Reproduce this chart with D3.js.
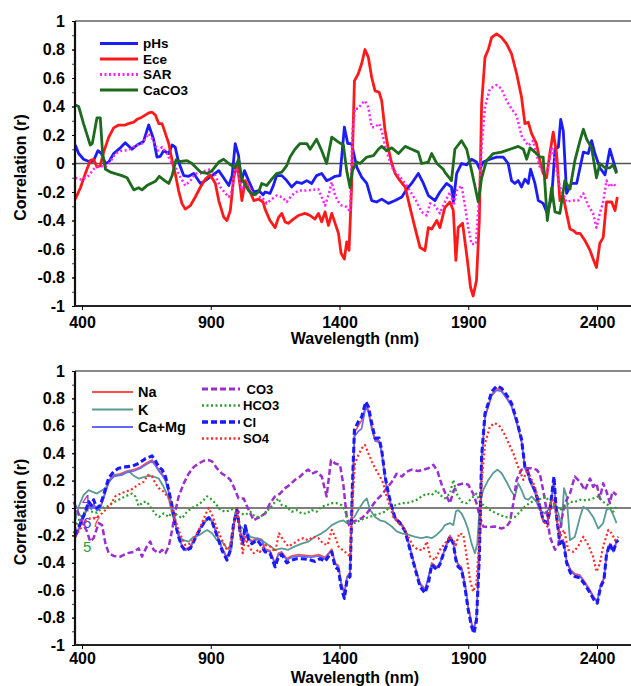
<!DOCTYPE html>
<html><head><meta charset="utf-8">
<script src="https://cdn.jsdelivr.net/npm/d3@7"></script>
<style>
body{margin:0;background:#fff;}
text{font-family:"Liberation Sans",Arial,sans-serif;font-weight:bold;}
</style></head>
<body><svg id="c" width="631" height="686"></svg>
<script>
// ---------- data: [wavelength nm, correlation r] ----------
const yTickValues = [1,0.8,0.6,0.4,0.2,0,-0.2,-0.4,-0.6,-0.8,-1];
const xTickValues = [400,900,1400,1900,2400];

const pHs = [[374,0.13],[387,0.07],[406,0.03],[432,0.01],[445,0.02],[462,0.09],[475,0.07],[491,0],[504,0.01],[523,0.07],[549,0.11],[568,0.145],[594,0.10],[614,0.13],[639,0.155],[659,0.27],[678,0.17],[691,0.045],[704,0.05],[717,0.09],[737,0.07],[750,0.13],[762,0.115],[775,0.01],[795,-0.085],[814,-0.09],[834,-0.07],[860,-0.14],[879,-0.12],[905,-0.085],[931,-0.05],[950,-0.10],[970,-0.155],[983,-0.085],[995,0.14],[1008,0.055],[1018,-0.13],[1031,-0.05],[1047,-0.12],[1067,-0.20],[1086,-0.19],[1103,-0.22],[1111,-0.20],[1130,-0.21],[1143,-0.155],[1156,-0.085],[1176,-0.085],[1195,-0.12],[1214,-0.165],[1234,-0.13],[1253,-0.14],[1273,-0.12],[1292,-0.14],[1311,-0.085],[1331,-0.07],[1350,-0.12],[1363,-0.11],[1383,-0.09],[1402,-0.085],[1419,0.255],[1432,0.14],[1447,0.14],[1467,-0.025],[1486,-0.095],[1506,-0.14],[1525,-0.26],[1544,-0.27],[1564,-0.25],[1590,-0.28],[1616,-0.26],[1642,-0.235],[1661,-0.18],[1680,-0.14],[1706,-0.07],[1726,-0.14],[1745,-0.225],[1771,-0.26],[1790,-0.2],[1816,-0.14],[1835,-0.165],[1842,-0.27],[1855,-0.07],[1874,0],[1894,-0.01],[1913,0.03],[1932,0.01],[1945,-0.04],[1958,0.01],[1984,0.03],[2010,0.045],[2036,0.045],[2055,0],[2068,-0.12],[2081,-0.14],[2094,-0.12],[2107,-0.165],[2120,-0.11],[2133,-0.14],[2142,-0.04],[2159,-0.14],[2172,-0.26],[2191,-0.28],[2207,-0.35],[2224,-0.235],[2237,0.10],[2250,0.115],[2259,0.31],[2269,0.23],[2282,-0.21],[2301,-0.14],[2321,-0.14],[2334,-0.03],[2347,0.08],[2366,0.07],[2379,0.16],[2392,0.07],[2411,-0.03],[2431,-0.08],[2450,0.10],[2463,0.02],[2476,-0.06]];

const Ece = [[374,-0.25],[394,-0.17],[413,-0.07],[432,0.02],[445,0.03],[458,-0.025],[471,-0.015],[484,0.08],[504,0.185],[523,0.25],[542,0.27],[568,0.27],[581,0.28],[601,0.29],[614,0.31],[633,0.325],[659,0.355],[672,0.36],[685,0.34],[698,0.28],[711,0.28],[724,0.21],[737,0.14],[750,0.02],[762,-0.07],[775,-0.19],[788,-0.28],[801,-0.32],[821,-0.295],[840,-0.235],[860,-0.165],[879,-0.11],[898,-0.08],[918,-0.14],[931,-0.26],[950,-0.375],[963,-0.40],[976,-0.33],[989,-0.10],[1002,0],[1015,-0.17],[1021,-0.26],[1034,-0.12],[1050,-0.19],[1067,-0.26],[1086,-0.25],[1103,-0.27],[1111,-0.32],[1130,-0.40],[1150,-0.45],[1163,-0.38],[1176,-0.35],[1189,-0.41],[1201,-0.42],[1221,-0.39],[1240,-0.365],[1266,-0.35],[1286,-0.365],[1305,-0.39],[1318,-0.35],[1331,-0.41],[1344,-0.34],[1357,-0.435],[1370,-0.35],[1383,-0.42],[1396,-0.49],[1406,-0.63],[1419,-0.67],[1428,-0.55],[1437,-0.61],[1447,-0.165],[1458,0.58],[1473,0.63],[1486,0.70],[1499,0.80],[1512,0.745],[1525,0.605],[1538,0.51],[1554,0.50],[1564,0.44],[1577,0.23],[1590,0.10],[1603,0],[1616,-0.07],[1635,-0.12],[1655,-0.165],[1674,-0.31],[1693,-0.45],[1713,-0.59],[1732,-0.61],[1745,-0.45],[1758,-0.46],[1778,-0.40],[1790,-0.45],[1809,-0.31],[1829,-0.27],[1842,-0.33],[1852,-0.68],[1861,-0.45],[1878,-0.42],[1894,-0.64],[1909,-0.87],[1919,-0.93],[1932,-0.82],[1943,-0.40],[1952,0.42],[1965,0.745],[1978,0.80],[1991,0.885],[2010,0.91],[2029,0.885],[2049,0.84],[2068,0.77],[2088,0.63],[2107,0.465],[2120,0.28],[2133,0.29],[2146,0.21],[2165,0.14],[2178,0.02],[2191,-0.07],[2204,-0.10],[2217,0.07],[2230,0.22],[2243,0.07],[2256,-0.26],[2269,-0.235],[2282,-0.35],[2295,-0.46],[2308,-0.47],[2321,-0.49],[2334,-0.49],[2353,-0.54],[2373,-0.61],[2385,-0.67],[2398,-0.73],[2411,-0.56],[2424,-0.52],[2437,-0.27],[2457,-0.27],[2470,-0.33],[2479,-0.235]];

const SAR = [[374,-0.10],[400,-0.115],[426,-0.085],[445,-0.04],[465,-0.015],[491,-0.025],[510,0.01],[529,0.07],[555,0.09],[581,0.095],[607,0.125],[633,0.14],[659,0.21],[678,0.16],[695,0.09],[711,0.115],[730,0.07],[743,0.02],[762,-0.025],[782,-0.095],[801,-0.155],[821,-0.12],[840,-0.07],[860,-0.07],[879,-0.05],[898,-0.04],[918,-0.085],[937,-0.165],[957,-0.21],[970,-0.235],[983,-0.19],[995,-0.015],[1008,-0.07],[1021,-0.19],[1041,-0.14],[1060,-0.20],[1086,-0.235],[1098,-0.235],[1117,-0.28],[1137,-0.25],[1156,-0.225],[1176,-0.235],[1195,-0.27],[1214,-0.225],[1240,-0.19],[1266,-0.19],[1292,-0.185],[1318,-0.18],[1331,-0.235],[1344,-0.295],[1359,-0.21],[1370,-0.13],[1383,-0.225],[1396,-0.27],[1409,-0.295],[1428,-0.305],[1441,-0.34],[1450,0.21],[1460,0.385],[1473,0.385],[1486,0.42],[1499,0.44],[1512,0.395],[1525,0.255],[1538,0.255],[1554,0.28],[1564,0.23],[1580,0.10],[1590,0.045],[1603,-0.025],[1622,-0.07],[1642,-0.11],[1661,-0.155],[1680,-0.21],[1700,-0.27],[1719,-0.34],[1739,-0.365],[1752,-0.28],[1771,-0.295],[1790,-0.35],[1809,-0.27],[1829,-0.20],[1844,-0.295],[1855,-0.19],[1874,-0.155],[1887,-0.295],[1900,-0.45],[1913,-0.565],[1930,-0.565],[1943,-0.21],[1952,0.115],[1965,0.395],[1984,0.525],[2010,0.55],[2029,0.525],[2049,0.44],[2068,0.385],[2088,0.335],[2107,0.195],[2120,0.16],[2133,0.125],[2152,0.16],[2165,0.07],[2178,-0.025],[2198,-0.08],[2211,-0.025],[2224,0.115],[2237,0.02],[2256,-0.165],[2282,-0.27],[2301,-0.26],[2327,-0.26],[2347,-0.21],[2366,-0.295],[2385,-0.35],[2398,-0.45],[2411,-0.35],[2424,-0.27],[2437,-0.12],[2450,-0.165],[2463,-0.14],[2476,-0.165]];

const CaCO3 = [[374,0.41],[387,0.40],[406,0.28],[432,0.13],[440,0.14],[458,0.32],[471,0.32],[480,0.07],[491,-0.04],[510,-0.06],[555,-0.085],[575,-0.10],[601,-0.185],[620,-0.17],[633,-0.185],[652,-0.155],[685,-0.125],[700,-0.09],[721,-0.12],[737,-0.14],[750,-0.085],[765,0.025],[782,0.014],[808,0.02],[827,0],[860,-0.06],[886,-0.07],[905,-0.05],[931,0.01],[950,0.03],[970,0],[995,-0.03],[1008,0.03],[1021,-0.11],[1047,-0.19],[1067,-0.22],[1086,-0.20],[1098,-0.14],[1117,-0.155],[1137,-0.11],[1156,-0.07],[1176,-0.06],[1195,-0.015],[1208,0.045],[1227,0.10],[1247,0.14],[1273,0.14],[1286,0.10],[1311,0.17],[1331,0.09],[1350,0],[1370,0.185],[1396,0.15],[1415,0.13],[1428,-0.05],[1441,-0.17],[1450,-0.05],[1467,0.01],[1480,0],[1506,0.045],[1532,0.055],[1551,0.10],[1564,0.12],[1583,0.09],[1603,0.11],[1629,0.07],[1655,0.12],[1680,0.10],[1706,0.08],[1719,0],[1745,0.01],[1758,0.07],[1778,0],[1803,-0.04],[1809,-0.06],[1835,-0.12],[1848,0.10],[1874,0.16],[1894,0.10],[1913,-0.05],[1939,-0.27],[1952,-0.10],[1971,0.02],[1997,0.07],[2029,0.08],[2062,0.10],[2094,0.12],[2114,0.10],[2127,0.03],[2140,0.11],[2159,0.08],[2178,0.045],[2191,0.045],[2207,-0.40],[2224,-0.17],[2237,-0.34],[2256,-0.35],[2275,-0.12],[2295,-0.18],[2314,0.02],[2334,0.16],[2347,0.24],[2360,0.17],[2379,0.11],[2398,-0.10],[2411,0],[2431,-0.03],[2450,-0.03],[2463,-0.01],[2476,-0.07]];

const Na = [[374,-0.20],[394,-0.12],[413,-0.03],[426,0.03],[436,0.0],[445,0.03],[458,-0.01],[471,0.01],[484,0.08],[504,0.20],[523,0.24],[549,0.25],[575,0.27],[601,0.28],[627,0.30],[652,0.33],[672,0.35],[685,0.32],[698,0.28],[711,0.25],[724,0.21],[737,0.12],[750,0.01],[762,-0.10],[775,-0.20],[788,-0.27],[801,-0.30],[821,-0.28],[840,-0.21],[860,-0.14],[879,-0.09],[892,-0.07],[905,-0.09],[924,-0.19],[944,-0.29],[963,-0.36],[976,-0.30],[989,-0.12],[1002,-0.02],[1015,-0.17],[1024,-0.24],[1034,-0.13],[1047,-0.22],[1060,-0.24],[1080,-0.22],[1099,-0.23],[1111,-0.30],[1130,-0.31],[1150,-0.40],[1163,-0.33],[1176,-0.32],[1195,-0.37],[1214,-0.35],[1240,-0.34],[1266,-0.345],[1292,-0.35],[1318,-0.34],[1344,-0.36],[1357,-0.33],[1370,-0.30],[1383,-0.40],[1396,-0.42],[1406,-0.54],[1419,-0.62],[1429,-0.50],[1441,-0.47],[1450,0.12],[1458,0.55],[1473,0.60],[1486,0.64],[1502,0.75],[1512,0.72],[1525,0.60],[1538,0.50],[1554,0.49],[1564,0.41],[1577,0.22],[1590,0.10],[1603,0.01],[1616,-0.07],[1635,-0.10],[1655,-0.16],[1674,-0.29],[1693,-0.42],[1713,-0.55],[1732,-0.59],[1745,-0.52],[1758,-0.40],[1778,-0.43],[1790,-0.41],[1810,-0.29],[1829,-0.20],[1842,-0.25],[1852,-0.36],[1861,-0.41],[1874,-0.43],[1887,-0.55],[1900,-0.72],[1913,-0.84],[1922,-0.88],[1932,-0.79],[1943,-0.34],[1952,0.36],[1965,0.67],[1978,0.75],[1991,0.83],[2010,0.87],[2029,0.86],[2049,0.81],[2068,0.75],[2088,0.63],[2107,0.49],[2120,0.30],[2129,0.27],[2140,0.20],[2159,0.12],[2178,0.01],[2191,-0.09],[2207,-0.10],[2217,-0.02],[2233,0.21],[2243,-0.06],[2256,-0.25],[2269,-0.23],[2282,-0.38],[2297,-0.45],[2314,-0.48],[2334,-0.49],[2353,-0.54],[2373,-0.60],[2388,-0.65],[2401,-0.68],[2414,-0.56],[2427,-0.51],[2437,-0.33],[2450,-0.26],[2463,-0.31],[2476,-0.24]];

const K = [[374,-0.09],[387,0.01],[406,0.095],[426,0.13],[439,0.12],[458,0.105],[478,0.13],[491,0.145],[510,0.205],[529,0.24],[555,0.24],[581,0.27],[601,0.235],[620,0.215],[639,0.225],[659,0.235],[678,0.23],[698,0.215],[717,0.155],[737,0.07],[750,-0.04],[769,-0.16],[782,-0.22],[795,-0.235],[814,-0.245],[834,-0.21],[853,-0.20],[873,-0.175],[886,-0.16],[905,-0.185],[924,-0.235],[944,-0.245],[963,-0.295],[980,-0.305],[995,-0.03],[1015,-0.135],[1034,-0.16],[1054,-0.21],[1073,-0.22],[1098,-0.235],[1124,-0.27],[1150,-0.305],[1176,-0.295],[1201,-0.305],[1227,-0.28],[1253,-0.26],[1279,-0.245],[1305,-0.21],[1331,-0.185],[1350,-0.16],[1370,-0.125],[1396,-0.10],[1415,-0.09],[1428,-0.11],[1441,-0.09],[1458,-0.065],[1473,-0.015],[1493,0.045],[1506,0.07],[1519,-0.015],[1538,-0.065],[1557,-0.09],[1577,-0.10],[1603,-0.135],[1622,-0.17],[1642,-0.185],[1667,-0.195],[1693,-0.21],[1719,-0.22],[1739,-0.21],[1758,-0.22],[1778,-0.195],[1797,-0.16],[1809,-0.125],[1829,-0.11],[1842,-0.125],[1852,-0.025],[1861,-0.015],[1874,-0.04],[1887,-0.09],[1900,-0.16],[1913,-0.26],[1926,-0.33],[1935,-0.26],[1945,0.035],[1958,0.13],[1978,0.205],[1997,0.255],[2013,0.28],[2029,0.255],[2049,0.19],[2068,0.12],[2081,0.085],[2094,0.18],[2107,0.13],[2120,0.07],[2133,0.06],[2146,0.085],[2165,0.045],[2178,-0.015],[2198,-0.04],[2217,0],[2237,0.02],[2250,-0.04],[2262,-0.135],[2272,0.145],[2282,0.085],[2295,-0.235],[2314,-0.21],[2334,-0.065],[2347,0.01],[2366,-0.015],[2385,-0.065],[2405,-0.15],[2424,-0.11],[2437,-0.015],[2450,0],[2463,-0.05],[2476,-0.11]];

const CaMg = [[374,-0.22],[394,-0.13],[413,-0.04],[426,0.02],[436,-0.01],[445,0.02],[458,-0.02],[471,0.0],[484,0.07],[504,0.19],[523,0.23],[549,0.24],[575,0.26],[601,0.27],[627,0.29],[652,0.32],[672,0.34],[685,0.31],[698,0.27],[711,0.24],[724,0.20],[737,0.11],[750,0.0],[762,-0.11],[775,-0.21],[788,-0.28],[801,-0.31],[821,-0.29],[840,-0.22],[860,-0.15],[879,-0.10],[892,-0.08],[905,-0.10],[924,-0.20],[944,-0.30],[963,-0.37],[976,-0.31],[989,-0.12],[1002,-0.03],[1015,-0.18],[1024,-0.25],[1034,-0.14],[1047,-0.23],[1060,-0.25],[1080,-0.23],[1099,-0.24],[1111,-0.31],[1130,-0.32],[1150,-0.41],[1163,-0.34],[1176,-0.33],[1195,-0.38],[1214,-0.36],[1240,-0.35],[1266,-0.355],[1292,-0.36],[1318,-0.35],[1344,-0.37],[1357,-0.34],[1370,-0.31],[1383,-0.41],[1396,-0.43],[1406,-0.55],[1419,-0.63],[1429,-0.51],[1441,-0.48],[1450,0.10],[1458,0.52],[1473,0.56],[1486,0.58],[1502,0.74],[1512,0.70],[1525,0.58],[1538,0.49],[1554,0.48],[1564,0.40],[1577,0.21],[1590,0.09],[1603,0.0],[1616,-0.08],[1635,-0.11],[1655,-0.17],[1674,-0.30],[1693,-0.43],[1713,-0.56],[1732,-0.60],[1745,-0.50],[1758,-0.41],[1778,-0.44],[1790,-0.40],[1810,-0.30],[1829,-0.21],[1842,-0.26],[1852,-0.37],[1861,-0.42],[1874,-0.44],[1887,-0.56],[1900,-0.73],[1913,-0.85],[1922,-0.89],[1932,-0.80],[1943,-0.35],[1952,0.35],[1965,0.66],[1978,0.74],[1991,0.82],[2010,0.86],[2029,0.85],[2049,0.80],[2068,0.74],[2088,0.62],[2107,0.48],[2120,0.29],[2129,0.26],[2140,0.19],[2159,0.11],[2178,0.0],[2191,-0.10],[2207,-0.11],[2217,-0.03],[2233,0.20],[2243,-0.07],[2256,-0.26],[2269,-0.24],[2282,-0.39],[2297,-0.46],[2314,-0.49],[2334,-0.50],[2353,-0.55],[2373,-0.61],[2388,-0.66],[2401,-0.69],[2414,-0.57],[2427,-0.52],[2437,-0.34],[2450,-0.27],[2463,-0.32],[2476,-0.25]];

const CO3 = [[368,0.045],[381,-0.015],[400,-0.10],[419,-0.17],[432,-0.245],[445,-0.22],[465,-0.11],[478,-0.125],[491,-0.26],[504,-0.33],[523,-0.35],[549,-0.355],[575,-0.33],[601,-0.32],[620,-0.295],[633,-0.355],[652,-0.28],[665,-0.245],[678,-0.305],[698,-0.33],[711,-0.305],[724,-0.33],[737,-0.28],[750,-0.16],[762,-0.027],[775,0.08],[795,0.18],[814,0.25],[834,0.30],[853,0.325],[873,0.345],[892,0.35],[905,0.34],[924,0.29],[944,0.25],[963,0.23],[976,0.205],[989,0.155],[1008,0.07],[1028,0.07],[1041,0.01],[1054,-0.04],[1067,-0.09],[1080,-0.075],[1091,-0.065],[1111,-0.04],[1130,0.035],[1150,0.085],[1169,0.105],[1189,0.145],[1208,0.17],[1227,0.205],[1247,0.23],[1266,0.265],[1279,0.28],[1292,0.25],[1311,0.265],[1331,0.23],[1350,0.085],[1367,0.35],[1383,0.325],[1402,0.315],[1415,0.17],[1428,-0.065],[1437,-0.125],[1450,-0.10],[1467,-0.09],[1486,-0.075],[1506,-0.04],[1525,0.01],[1544,0.06],[1564,0.095],[1583,0.145],[1603,0.19],[1622,0.25],[1642,0.23],[1661,0.265],[1680,0.28],[1706,0.27],[1726,0.28],[1745,0.29],[1765,0.315],[1781,0.265],[1797,0.17],[1816,0.085],[1829,0.035],[1844,0.13],[1861,0.17],[1881,0.18],[1900,0.17],[1919,0.105],[1932,0.035],[1945,-0.065],[1958,-0.135],[1978,-0.14],[2004,-0.135],[2029,-0.15],[2049,-0.135],[2062,-0.10],[2075,0.035],[2088,0.205],[2107,0.28],[2127,0.29],[2146,0.29],[2165,0.28],[2178,0.25],[2191,0.13],[2204,-0.015],[2217,-0.21],[2237,-0.305],[2250,-0.27],[2262,-0.09],[2275,0.035],[2295,0.105],[2314,0.23],[2334,0.19],[2353,0.13],[2373,0.215],[2385,0.155],[2398,0.18],[2411,0.07],[2424,0.18],[2437,0.12],[2450,0.035],[2460,0.12],[2476,0.095]];

const HCO3 = [[368,-0.185],[381,-0.11],[400,-0.05],[419,-0.015],[439,-0.027],[458,-0.035],[478,0],[497,0.01],[517,0.035],[542,0.06],[568,0.085],[594,0.105],[607,0.085],[620,0.015],[639,0.045],[652,0.045],[665,0.01],[685,-0.045],[700,-0.065],[717,-0.04],[737,-0.065],[750,-0.027],[769,-0.05],[788,-0.075],[808,-0.027],[827,0],[847,0.02],[866,0.045],[886,0.085],[898,0.07],[918,0.035],[937,-0.015],[957,-0.027],[976,-0.015],[995,0],[1015,-0.04],[1034,-0.05],[1054,-0.027],[1073,-0.065],[1091,-0.065],[1111,-0.04],[1130,0],[1150,0.045],[1163,0.07],[1176,0.02],[1195,0.01],[1214,-0.027],[1234,-0.015],[1253,-0.04],[1273,-0.04],[1292,-0.015],[1311,-0.027],[1331,0.01],[1350,0.02],[1370,0.035],[1389,0.035],[1409,0.02],[1421,-0.015],[1434,-0.11],[1447,-0.10],[1460,-0.11],[1480,-0.09],[1499,-0.075],[1519,-0.065],[1538,-0.05],[1557,-0.04],[1577,-0.027],[1596,0.01],[1616,0.02],[1642,0.035],[1661,0.035],[1680,0.045],[1700,0.06],[1719,0.085],[1739,0.105],[1758,0.095],[1778,0.13],[1790,0.095],[1809,0.07],[1829,0.105],[1842,0.205],[1855,0.105],[1874,0.045],[1894,0.035],[1913,0.07],[1932,0.105],[1945,0.045],[1965,0.01],[1984,-0.015],[2010,-0.04],[2036,-0.06],[2062,-0.075],[2081,-0.065],[2101,-0.027],[2120,0.01],[2140,0.04],[2159,0.055],[2178,0.065],[2198,0.085],[2217,0.045],[2237,0.02],[2256,-0.015],[2275,0.01],[2295,0.045],[2314,0.045],[2334,0.06],[2360,0.055],[2385,0.07],[2405,0.085],[2424,0.045],[2444,0.02],[2463,-0.027],[2476,0.01]];

const Cl = [[374,-0.20],[394,-0.11],[413,-0.027],[426,0.046],[436,0.02],[445,0.06],[458,0],[471,0.02],[484,0.095],[504,0.22],[523,0.265],[542,0.29],[568,0.30],[594,0.305],[620,0.325],[646,0.36],[672,0.38],[685,0.345],[698,0.30],[711,0.28],[724,0.23],[737,0.13],[750,0.01],[762,-0.11],[775,-0.21],[788,-0.28],[801,-0.31],[821,-0.295],[840,-0.22],[860,-0.15],[879,-0.09],[892,-0.07],[905,-0.10],[924,-0.20],[944,-0.31],[963,-0.38],[976,-0.31],[989,-0.11],[1002,-0.015],[1015,-0.185],[1024,-0.26],[1034,-0.13],[1047,-0.235],[1060,-0.26],[1080,-0.235],[1091,-0.26],[1111,-0.32],[1130,-0.33],[1150,-0.43],[1163,-0.355],[1176,-0.34],[1195,-0.40],[1214,-0.38],[1234,-0.37],[1253,-0.37],[1279,-0.375],[1305,-0.39],[1324,-0.37],[1344,-0.39],[1357,-0.355],[1370,-0.32],[1383,-0.43],[1396,-0.45],[1406,-0.575],[1419,-0.66],[1429,-0.525],[1441,-0.50],[1450,0.155],[1458,0.57],[1473,0.63],[1486,0.665],[1502,0.775],[1512,0.74],[1525,0.62],[1538,0.51],[1554,0.51],[1564,0.42],[1577,0.23],[1590,0.105],[1603,0.01],[1616,-0.075],[1635,-0.11],[1655,-0.17],[1674,-0.305],[1693,-0.44],[1713,-0.575],[1732,-0.62],[1745,-0.55],[1758,-0.415],[1778,-0.45],[1790,-0.41],[1809,-0.305],[1829,-0.21],[1842,-0.26],[1852,-0.38],[1861,-0.43],[1874,-0.45],[1887,-0.575],[1900,-0.745],[1913,-0.865],[1922,-0.915],[1932,-0.82],[1943,-0.355],[1952,0.375],[1965,0.69],[1978,0.765],[1991,0.85],[2010,0.89],[2029,0.875],[2049,0.825],[2068,0.765],[2088,0.64],[2107,0.50],[2120,0.30],[2129,0.28],[2140,0.205],[2159,0.13],[2178,0.01],[2191,-0.09],[2207,-0.11],[2217,-0.015],[2233,0.23],[2243,-0.065],[2256,-0.26],[2269,-0.235],[2282,-0.40],[2297,-0.475],[2314,-0.50],[2334,-0.51],[2353,-0.56],[2373,-0.62],[2388,-0.67],[2401,-0.695],[2414,-0.575],[2427,-0.525],[2437,-0.34],[2450,-0.26],[2463,-0.32],[2476,-0.245],[2483,-0.235]];

const SO4 = [[374,-0.21],[394,-0.15],[413,-0.10],[432,-0.075],[452,-0.075],[471,-0.05],[491,-0.015],[510,0.02],[529,0.085],[549,0.105],[568,0.12],[588,0.13],[607,0.155],[627,0.18],[639,0.19],[656,0.24],[672,0.23],[685,0.18],[698,0.145],[717,0.12],[737,0.07],[750,-0.015],[769,-0.125],[782,-0.195],[801,-0.27],[821,-0.26],[840,-0.21],[860,-0.135],[879,-0.05],[892,0],[905,-0.05],[924,-0.15],[944,-0.235],[963,-0.305],[976,-0.28],[989,-0.135],[1002,0],[1015,-0.21],[1024,-0.33],[1034,-0.21],[1047,-0.28],[1067,-0.33],[1086,-0.305],[1091,-0.32],[1111,-0.27],[1130,-0.28],[1150,-0.32],[1165,-0.185],[1182,-0.235],[1201,-0.28],[1221,-0.26],[1240,-0.235],[1260,-0.22],[1279,-0.235],[1298,-0.21],[1318,-0.22],[1337,-0.26],[1354,-0.27],[1370,-0.16],[1383,-0.21],[1396,-0.28],[1411,-0.305],[1428,-0.33],[1441,-0.355],[1450,0.035],[1460,0.325],[1473,0.385],[1486,0.435],[1499,0.46],[1512,0.40],[1525,0.34],[1541,0.28],[1557,0.23],[1570,0.18],[1583,0.085],[1596,0.01],[1609,-0.065],[1629,-0.11],[1648,-0.135],[1667,-0.21],[1687,-0.28],[1706,-0.305],[1726,-0.305],[1739,-0.245],[1752,-0.355],[1771,-0.38],[1790,-0.305],[1809,-0.26],[1829,-0.21],[1842,-0.235],[1852,-0.27],[1865,-0.185],[1881,-0.195],[1894,-0.355],[1907,-0.525],[1919,-0.61],[1932,-0.55],[1943,-0.21],[1952,0.18],[1965,0.47],[1984,0.595],[2004,0.62],[2023,0.595],[2042,0.535],[2062,0.45],[2075,0.40],[2094,0.30],[2114,0.205],[2129,0.28],[2140,0.23],[2159,0.155],[2178,0.01],[2191,-0.09],[2207,-0.135],[2220,0.035],[2230,0.06],[2243,-0.065],[2256,-0.21],[2272,-0.16],[2288,-0.305],[2308,-0.32],[2327,-0.28],[2347,-0.21],[2366,-0.27],[2385,-0.355],[2398,-0.465],[2411,-0.405],[2424,-0.28],[2444,-0.16],[2457,-0.185],[2470,-0.235],[2483,-0.21]];

// ---------- layout / styles ----------
const topSeries = [
  {name:"pHs", data:pHs, color:"#1c1cf5", w:2.8, dash:null},
  {name:"Ece", data:Ece, color:"#ff1a1a", w:2.8, dash:null},
  {name:"SAR", data:SAR, color:"#ff22ff", w:2.5, dash:"2,2.5"},
  {name:"CaCO3", data:CaCO3, color:"#1d6b1d", w:2.8, dash:null}
];
const botSeries = [
  {name:"Na", data:Na, color:"#ff4d4d", w:1.6, dash:null},
  {name:"K", data:K, color:"#5a9a94", w:1.8, dash:null},
  {name:"Ca+Mg", data:CaMg, color:"#6565ff", w:1.6, dash:null},
  {name:" CO3", data:CO3, color:"#9a2fd0", w:2.5, dash:"6,3"},
  {name:"HCO3", data:HCO3, color:"#2e9e2e", w:2.2, dash:"2,2.5"},
  {name:"Cl", data:Cl, color:"#1a1aff", w:3.1, dash:"6,3"},
  {name:"SO4", data:SO4, color:"#ff2a2a", w:2.2, dash:"2,2.5"}
];

const svg = d3.select("#c");
const x = d3.scaleLinear().domain([400,2400]).range([82,597]);
const frameL = 75, frameR = 645;

function panel(cfg){
  const y = d3.scaleLinear().domain([-1,1]).range([cfg.bottom, cfg.top]);
  const g = svg.append("g");
  g.append("line").attr("x1",frameL).attr("x2",frameR).attr("y1",cfg.top).attr("y2",cfg.top)
    .attr("stroke","#8a8a8a").attr("stroke-width",2);
  g.append("line").attr("x1",frameL).attr("x2",frameR).attr("y1",y(0)).attr("y2",y(0))
    .attr("stroke","#555").attr("stroke-width",1.6);
  (cfg.extras||[]).forEach(e=>{
    g.append("text").attr("x",e.x).attr("y",e.y).attr("fill",e.c).attr("font-size",15)
     .style("font-weight","normal").text(e.t);
  });
  const line = d3.line().x(d=>x(d[0])).y(d=>y(d[1]));
  cfg.series.forEach(s=>{
    g.append("path").datum(s.data).attr("d",line).attr("fill","none")
      .attr("stroke",s.color).attr("stroke-width",s.w).attr("stroke-linejoin","round")
      .attr("stroke-dasharray",s.dash);
  });
  g.append("g").attr("transform",`translate(${frameL},0)`)
    .call(d3.axisLeft(y).tickValues(d3.range(-10,11).map(v=>v/10)).tickSize(3).tickFormat(""))
    .call(a=>{a.select(".domain").remove(); a.selectAll("line").attr("stroke","#444");});
  const ya = g.append("g").attr("transform",`translate(${frameL},0)`)
    .call(d3.axisLeft(y).tickValues(yTickValues).tickSize(3).tickPadding(7)
      .tickFormat(d=>d===0?"0":String(Math.round(d*10)/10)));
  ya.select(".domain").attr("stroke","#111").attr("stroke-width",2.2)
    .attr("d",`M0,${cfg.top}V${cfg.bottom}`);
  ya.selectAll("text").attr("font-size",16).attr("fill","#000")
    .style("font-family","'Liberation Sans',Arial,sans-serif").style("font-weight","bold");
  const xa = g.append("g").attr("transform",`translate(0,${cfg.bottom})`)
    .call(d3.axisBottom(x).tickValues(xTickValues).tickSize(4).tickFormat(d3.format("d")));
  xa.select(".domain").attr("stroke","#222").attr("stroke-width",2.2)
    .attr("d",`M${frameL},0H${frameR}`);
  xa.selectAll("text").attr("font-size",16).attr("fill","#000").attr("dy",null).attr("y",cfg.xLabDy)
    .style("font-family","'Liberation Sans',Arial,sans-serif").style("font-weight","bold");
  g.append("text").attr("x",355).attr("y",cfg.bottom+cfg.titleDy).attr("text-anchor","middle")
    .attr("font-size",16).text("Wavelength (nm)");
  g.append("text").attr("transform",`translate(26,${(cfg.top+cfg.bottom)/2+4}) rotate(-90)`)
    .attr("text-anchor","middle").attr("font-size",16).text("Correlation (r)");
  cfg.legend.forEach(col=>{
    col.items.forEach((s,i)=>{
      const yy = col.y0 + i*col.dy;
      g.append("line").attr("x1",col.x1).attr("x2",col.x2).attr("y1",yy).attr("y2",yy)
        .attr("stroke",s.color).attr("stroke-width",col.lw||s.w+0.4).attr("stroke-dasharray",s.dash);
      g.append("text").attr("x",col.tx).attr("y",yy+col.fs*0.36).attr("font-size",col.fs)
        .attr("xml:space","preserve").style("white-space","pre").text(s.name);
    });
  });
}

panel({top:21,bottom:306,series:topSeries,xLabDy:22,titleDy:38,
  legend:[{items:topSeries,x1:100,x2:138,tx:143,y0:43.5,dy:15.5,fs:13.5}]});
panel({top:371,bottom:645,series:botSeries,xLabDy:19,titleDy:38,
  extras:[{t:"4",x:82,y:505,c:"#9a2fd0"},{t:"6",x:83,y:528,c:"#3a3aff"},{t:"7",x:92,y:527,c:"#ff4040"},{t:"5",x:83,y:552,c:"#2e9e2e"}],
  legend:[{items:botSeries.slice(0,3),x1:92,x2:133,tx:138,y0:392,dy:17.5,fs:14.5},
          {items:botSeries.slice(3),x1:202,x2:240,tx:243,y0:389,dy:16.5,fs:13}]});
</script></body></html>
